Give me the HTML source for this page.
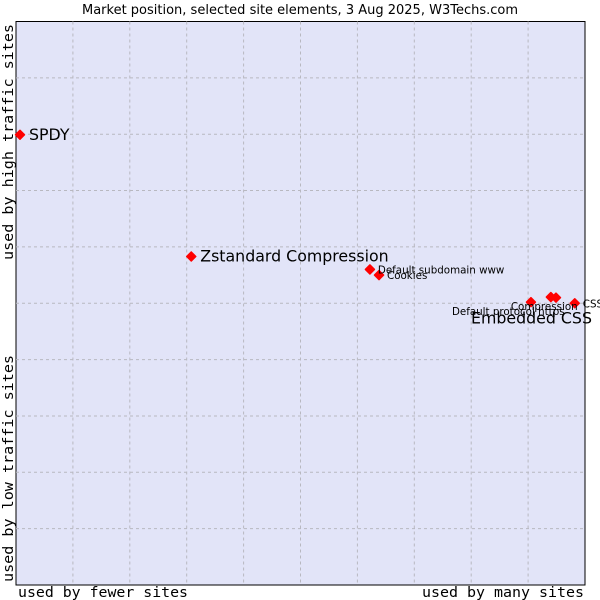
<!DOCTYPE html>
<html><head><meta charset="utf-8"><style>
body{margin:0;background:#fff;}
svg{display:block;}
text{font-family:"DejaVu Sans","Liberation Sans",sans-serif;}
.mono{font-family:"DejaVu Sans Mono","Liberation Mono",monospace;font-size:14.5px;fill:#000;}
</style></head><body>
<svg id="chart" width="600" height="600">
<text x="300" y="14" text-anchor="middle" font-size="13">Market position, selected site elements, 3 Aug 2025, W3Techs.com</text>
<rect x="16" y="21.5" width="569" height="563.5" fill="#e2e4f8" stroke="#000" stroke-width="1"/>
<g id="grid"></g>
<g id="marks"></g>
<text class="mono" x="18" y="597" textLength="170" lengthAdjust="spacingAndGlyphs">used by fewer sites</text>
<text class="mono" x="422" y="597" textLength="162" lengthAdjust="spacingAndGlyphs">used by many sites</text>
<text class="mono" transform="translate(13,260) rotate(-90)" textLength="236" lengthAdjust="spacingAndGlyphs">used by high traffic sites</text>
<text class="mono" transform="translate(13,582) rotate(-90)" textLength="227" lengthAdjust="spacingAndGlyphs">used by low traffic sites</text>
</svg>
<script>
const names=["SPDY","Zstandard Compression","Default subdomain www","Cookies","Default protocol https","Compression","Embedded CSS","CSS"];
const xVals=[0.7,30.8,62.2,63.8,90.5,94.0,94.9,98.2];
const yVals=[79.9,58.3,56.0,55.0,50.2,51.1,51.0,50.0];
const big=[true,true,false,false,false,false,true,false];
const labDx=[9,9,8,8,-79,-40,-85,8];
const labDy=[5,5,4,4,13,13,26,4];
const X0=16,X1=585,Y0=585,Y1=21.5;
function sx(v){return X0+v/100*(X1-X0);}
function sy(v){return Y0-v/100*(Y0-Y1);}
const NS="http://www.w3.org/2000/svg";
const grid=document.getElementById('grid');
for(let i=1;i<10;i++){
 const v=i*10;
 const l1=document.createElementNS(NS,'line');
 l1.setAttribute('x1',sx(v));l1.setAttribute('x2',sx(v));l1.setAttribute('y1',Y1);l1.setAttribute('y2',Y0);
 l1.setAttribute('stroke','#b8b8c0');l1.setAttribute('stroke-dasharray','3,3');
 
 
 grid.appendChild(l1);
 const l2=document.createElementNS(NS,'line');
 l2.setAttribute('y1',sy(v));l2.setAttribute('y2',sy(v));l2.setAttribute('x1',X0);l2.setAttribute('x2',X1);
 l2.setAttribute('stroke','#b8b8c0');l2.setAttribute('stroke-dasharray','3,3');
 
 
 grid.appendChild(l2);
}
const marks=document.getElementById('marks');
const labels=[];
for(let i=0;i<names.length;i++){
 const x=sx(xVals[i]),y=sy(yVals[i]);
 const p=document.createElementNS(NS,'path');
 p.setAttribute('d',`M${x},${y-4.5}L${x+4.5},${y}L${x},${y+4.5}L${x-4.5},${y}Z`);
 p.setAttribute('fill','#f00');p.setAttribute('stroke','#f00');p.setAttribute('stroke-width','1.5');p.setAttribute('stroke-linejoin','round');
 
 
 marks.appendChild(p);
 const t=document.createElementNS(NS,'text');
 t.setAttribute('x',x+labDx[i]);t.setAttribute('y',y+labDy[i]);
 t.setAttribute('font-size',big[i]?'15.8':'10.3');
 t.textContent=names[i];
 
 
 labels.push(t);
}
labels.forEach(t=>marks.appendChild(t));
</script>
</body></html>
